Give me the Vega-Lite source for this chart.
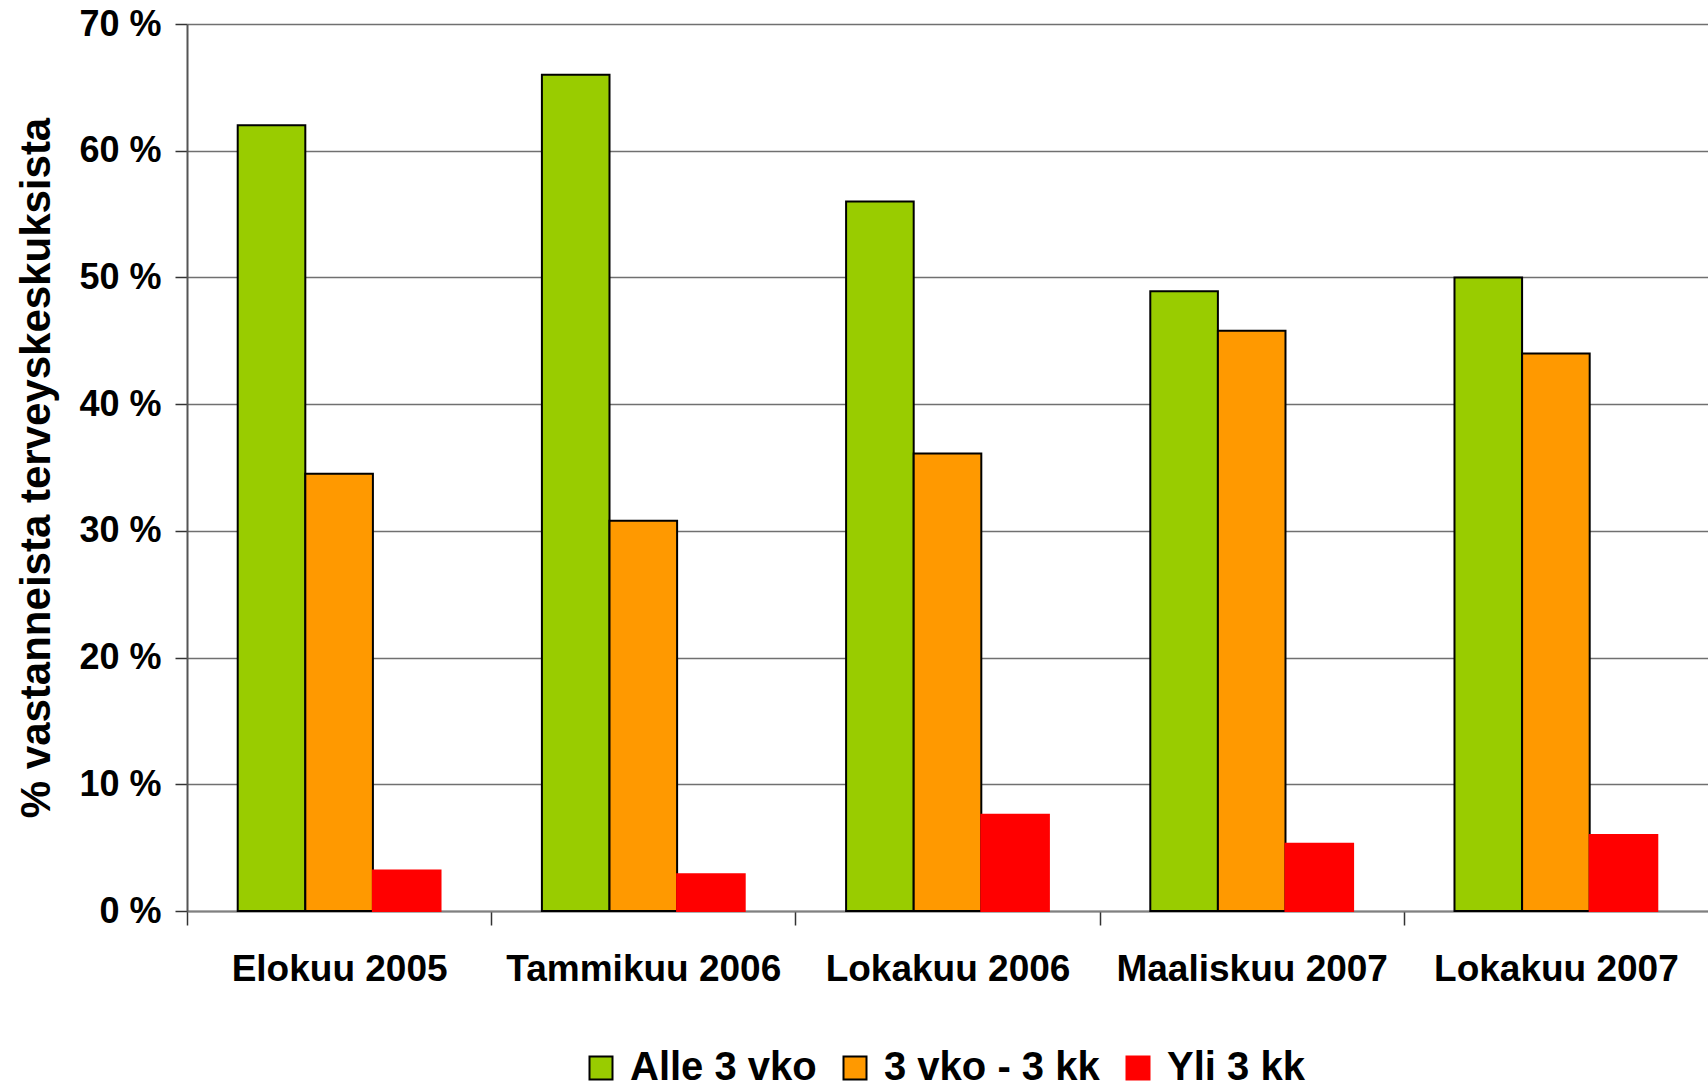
{
  "$schema": "https://vega.github.io/schema/vega-lite/v6.json",
  "width": 1521,
  "height": 887,
  "autosize": {"type": "none"},
  "padding": {"left": 187, "top": 24, "right": 0, "bottom": 179},
  "background": "white",
  "config": {"view": {"stroke": null}, "font": "Liberation Sans"},
  "data": {
    "values": [
      {"period": "Elokuu 2005", "series": "Alle 3 vko", "pct": 62.0},
      {"period": "Elokuu 2005", "series": "3 vko - 3 kk", "pct": 34.5},
      {"period": "Elokuu 2005", "series": "Yli 3 kk", "pct": 3.2},
      {"period": "Tammikuu 2006", "series": "Alle 3 vko", "pct": 66.0},
      {"period": "Tammikuu 2006", "series": "3 vko - 3 kk", "pct": 30.8},
      {"period": "Tammikuu 2006", "series": "Yli 3 kk", "pct": 2.9},
      {"period": "Lokakuu 2006", "series": "Alle 3 vko", "pct": 56.0},
      {"period": "Lokakuu 2006", "series": "3 vko - 3 kk", "pct": 36.1},
      {"period": "Lokakuu 2006", "series": "Yli 3 kk", "pct": 7.6},
      {"period": "Maaliskuu 2007", "series": "Alle 3 vko", "pct": 48.9},
      {"period": "Maaliskuu 2007", "series": "3 vko - 3 kk", "pct": 45.8},
      {"period": "Maaliskuu 2007", "series": "Yli 3 kk", "pct": 5.3},
      {"period": "Lokakuu 2007", "series": "Alle 3 vko", "pct": 50.0},
      {"period": "Lokakuu 2007", "series": "3 vko - 3 kk", "pct": 44.0},
      {"period": "Lokakuu 2007", "series": "Yli 3 kk", "pct": 6.0}
    ]
  },
  "mark": {"type": "bar", "strokeWidth": 2},
  "encoding": {
    "x": {
      "field": "period",
      "type": "nominal",
      "sort": ["Elokuu 2005", "Tammikuu 2006", "Lokakuu 2006", "Maaliskuu 2007", "Lokakuu 2007"],
      "scale": {"paddingInner": 0.3333, "paddingOuter": 0.1667},
      "axis": {
        "title": null,
        "labelAngle": 0,
        "labelFont": "Liberation Sans",
        "labelFontWeight": "bold",
        "labelFontSize": 37,
        "labelColor": "black",
        "labelLimit": 0,
        "labelPadding": 26,
        "bandPosition": 0,
        "tickOffset": -50.7,
        "labelOffset": 50.7,
        "tickSize": 14,
        "tickColor": "#333333",
        "tickWidth": 1.5,
        "domainColor": "#808080",
        "domainWidth": 2,
        "grid": false
      }
    },
    "xOffset": {
      "field": "series",
      "type": "nominal",
      "sort": ["Alle 3 vko", "3 vko - 3 kk", "Yli 3 kk"],
      "scale": {"paddingInner": 0, "paddingOuter": 0}
    },
    "y": {
      "field": "pct",
      "type": "quantitative",
      "scale": {"domain": [0, 70], "nice": false},
      "axis": {
        "title": "% vastanneista terveyskeskuksista",
        "titleFont": "Liberation Sans",
        "titleFontSize": 42,
        "titleFontWeight": "bold",
        "titleColor": "black",
        "titlePadding": 20,
        "values": [0, 10, 20, 30, 40, 50, 60, 70],
        "labelExpr": "datum.value + ' %'",
        "labelFont": "Liberation Sans",
        "labelFontWeight": "bold",
        "labelFontSize": 36,
        "labelColor": "black",
        "labelPadding": 14,
        "tickSize": 12,
        "tickColor": "#333333",
        "tickWidth": 1.5,
        "domainColor": "#555555",
        "domainWidth": 2,
        "grid": true,
        "gridColor": "#707070",
        "gridWidth": 1.5
      }
    },
    "fill": {
      "field": "series",
      "type": "nominal",
      "scale": {"domain": ["Alle 3 vko", "3 vko - 3 kk", "Yli 3 kk"], "range": ["#99CC00", "#FF9900", "#FF0000"]},
      "legend": {
        "orient": "none",
        "legendX": 394,
        "legendY": 1024,
        "direction": "horizontal",
        "title": null,
        "symbolType": "square",
        "symbolSize": 529,
        "symbolStrokeWidth": 2,
        "labelFont": "Liberation Sans",
        "labelFontSize": 40,
        "labelFontWeight": "bold",
        "labelColor": "black",
        "labelLimit": 0,
        "labelOffset": 9,
        "columnPadding": 18
      }
    },
    "stroke": {
      "field": "series",
      "type": "nominal",
      "scale": {"domain": ["Alle 3 vko", "3 vko - 3 kk", "Yli 3 kk"], "range": ["black", "black", "#FF0000"]},
      "legend": {
        "orient": "none",
        "legendX": 394,
        "legendY": 1024,
        "direction": "horizontal",
        "title": null,
        "symbolType": "square",
        "symbolSize": 529,
        "symbolStrokeWidth": 2,
        "labelFont": "Liberation Sans",
        "labelFontSize": 40,
        "labelFontWeight": "bold",
        "labelColor": "black",
        "labelLimit": 0,
        "labelOffset": 9,
        "columnPadding": 18
      }
    }
  }
}
